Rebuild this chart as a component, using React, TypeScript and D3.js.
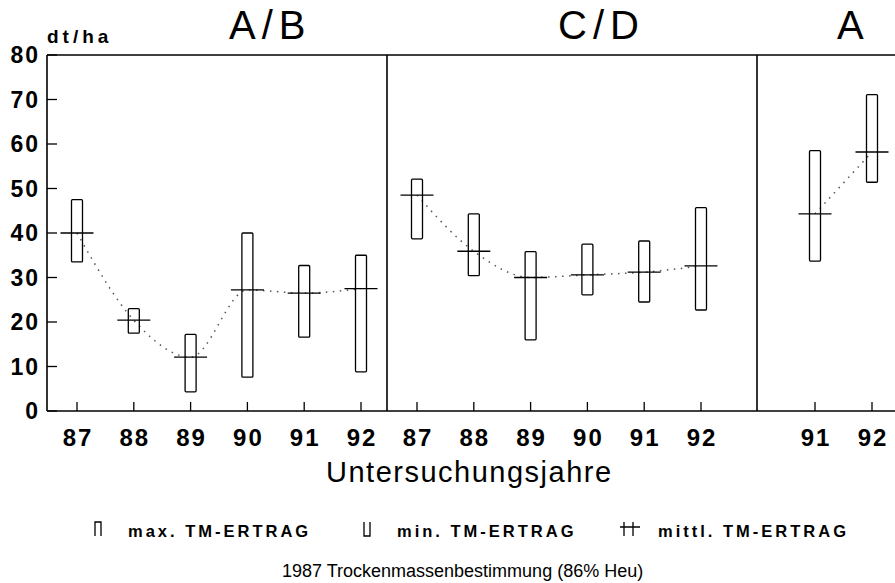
import React from "react";
import * as d3 from "d3";

// values (dt/ha)
const years = [87, 88, 89, 90, 91, 92];
const aYears = [91, 92];
const yTicks = [0, 10, 20, 30, 40, 50, 60, 70, 80];

const abMax = [47.5, 23.0, 17.2, 40.0, 32.7, 35.0];
const abMin = [33.5, 17.5, 4.3, 7.6, 16.6, 8.8];
const abMean = [40.0, 20.4, 12.1, 27.2, 26.5, 27.5];

const cdMax = [52.1, 44.3, 35.8, 37.5, 38.2, 45.7];
const cdMin = [38.7, 30.4, 16.0, 26.1, 24.5, 22.7];
const cdMean = [48.5, 35.9, 30.0, 30.6, 31.2, 32.6];

const aMax = [58.5, 71.1];
const aMin = [33.7, 51.4];
const aMean = [44.3, 58.2];

const legendLabels = ["max. TM-ERTRAG", "min. TM-ERTRAG", "mittl. TM-ERTRAG"];

const W = 895;
const H = 583;
const left = 47;
const top = 55;
const bottom = 411;
const div1 = 387;
const div2 = 757;

const font = "'Liberation Sans', Arial, Helvetica, sans-serif";

const y = d3.scaleLinear().domain([0, 80]).range([bottom, top]);

const panels = [
  { title: "A/B", titleX: 229, years, max: abMax, min: abMin, mean: abMean,
    x: d3.scaleLinear().domain([87, 92]).range([77, 361]) },
  { title: "C/D", titleX: 558, years, max: cdMax, min: cdMin, mean: cdMean,
    x: d3.scaleLinear().domain([87, 92]).range([417, 701]) },
  { title: "A", titleX: 837, years: aYears, max: aMax, min: aMin, mean: aMean,
    x: d3.scaleLinear().domain([91, 92]).range([815, 872]) },
];

const boxW = 11;
const meanW = 33;

const Panel = ({ p }: { p: any }) => {
  const line = d3
    .line<number>()
    .x((d, i) => p.x(p.years[i]))
    .y((d) => y(d))
    .curve(d3.curveMonotoneX);

  return (
    <g>
      <text x={p.titleX} y={39} fontFamily={font} fontSize={40} letterSpacing={6}>
        {p.title}
      </text>
      <path d={line(p.mean) || ""} fill="none" stroke="#555" strokeWidth={1.5}
        strokeDasharray="1.5 5.5" />
      {p.years.map((yr: number, i: number) => {
        const cx = p.x(yr);
        return (
          <g key={yr}>
            <line x1={cx} x2={cx} y1={bottom} y2={bottom - 9} stroke="#000" strokeWidth={1.3} />
            <text x={cx + 1} y={446} textAnchor="middle" fontFamily={font}
              fontWeight="bold" fontSize={24} letterSpacing={2}>
              {yr}
            </text>
            <rect x={cx - boxW / 2} y={y(p.max[i])} width={boxW}
              height={y(p.min[i]) - y(p.max[i])} rx={1} fill="none" stroke="#000"
              strokeWidth={1.3} />
            <line x1={cx - meanW / 2} x2={cx + meanW / 2} y1={y(p.mean[i])}
              y2={y(p.mean[i])} stroke="#000" strokeWidth={1.3} />
          </g>
        );
      })}
    </g>
  );
};

export default function App() {
  return (
    <svg width={W} height={H} style={{ position: "absolute", left: 0, top: 0, background: "#fff" }}>
      <rect x={0} y={0} width={W} height={H} fill="#fff" />
      <text x={47} y={43} fontFamily={font} fontWeight="bold" fontSize={19} letterSpacing={4}>
        dt/ha
      </text>

      {/* frame */}
      <line x1={left} x2={W} y1={top} y2={top} stroke="#000" strokeWidth={1.6} />
      <line x1={left} x2={W} y1={bottom} y2={bottom} stroke="#000" strokeWidth={1.6} />
      <line x1={left} x2={left} y1={top} y2={bottom} stroke="#000" strokeWidth={1.6} />
      <line x1={div1} x2={div1} y1={top} y2={bottom} stroke="#000" strokeWidth={1.6} />
      <line x1={div2} x2={div2} y1={top} y2={bottom} stroke="#000" strokeWidth={1.6} />

      {yTicks.map((t) => (
        <g key={t}>
          <line x1={left} x2={left + 10} y1={y(t)} y2={y(t)} stroke="#000" strokeWidth={1.3} />
          <text x={40} y={y(t) + 8} textAnchor="end" fontFamily={font}
            fontWeight="bold" fontSize={23} letterSpacing={2}>
            {t}
          </text>
        </g>
      ))}

      {panels.map((p) => (
        <Panel key={p.title} p={p} />
      ))}

      <text x={326} y={482} fontFamily={font} fontSize={29} letterSpacing={1.5}>
        Untersuchungsjahre
      </text>

      {/* legend */}
      <path d="M95,536V522H101V536" fill="none" stroke="#000" strokeWidth={1.3} />
      <text x={128} y={537} fontFamily={font} fontWeight="bold" fontSize={16.5} letterSpacing={3}>
        {legendLabels[0]}
      </text>
      <path d="M364,522V536H370V522" fill="none" stroke="#000" strokeWidth={1.3} />
      <text x={397} y={537} fontFamily={font} fontWeight="bold" fontSize={16.5} letterSpacing={3}>
        {legendLabels[1]}
      </text>
      <path d="M624,522V536M633,522V536M620,527H640" fill="none" stroke="#000" strokeWidth={1.3} />
      <text x={658} y={537} fontFamily={font} fontWeight="bold" fontSize={16.5} letterSpacing={3}>
        {legendLabels[2]}
      </text>

      <text x={282} y={577} fontFamily={font} fontSize={18}>
        1987 Trockenmassenbestimmung (86% Heu)
      </text>
    </svg>
  );
}
